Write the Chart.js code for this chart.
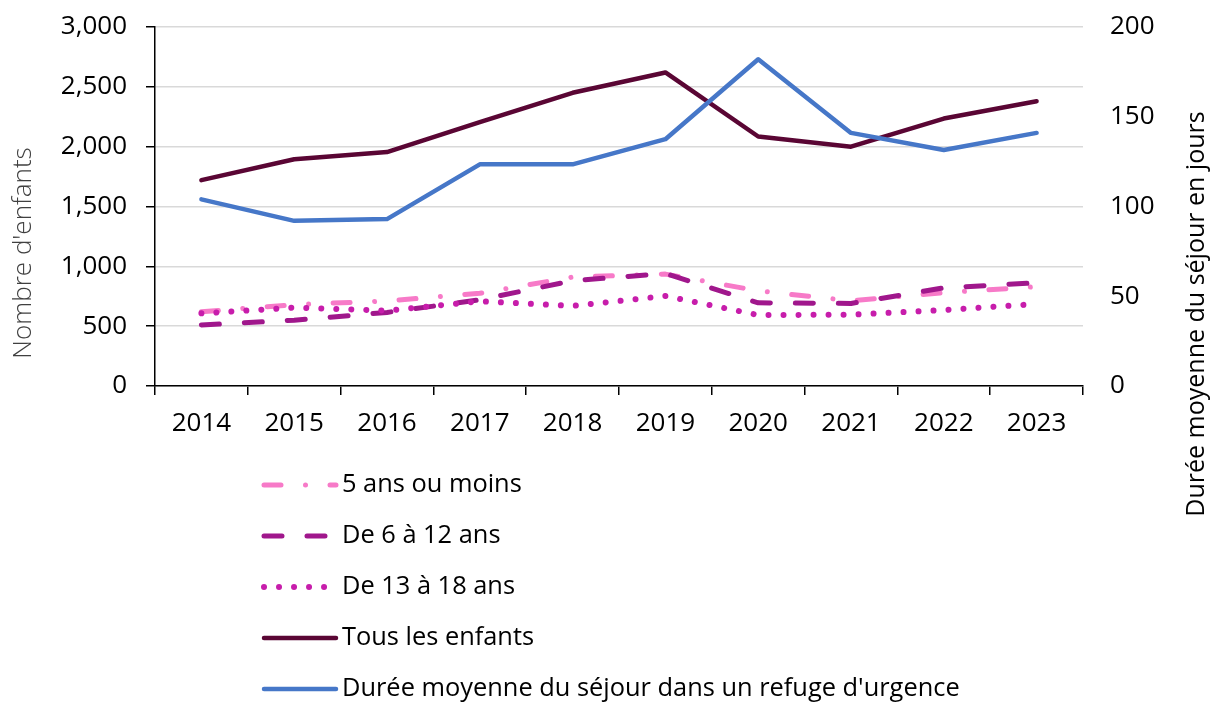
<!DOCTYPE html>
<html>
<head>
<meta charset="utf-8">
<script src="https://cdn.jsdelivr.net/npm/chart.js@4"></script>
<style>
html,body{margin:0;padding:0;background:#fff;}
#wrap{width:1211px;height:702px;position:relative;}
</style>
</head>
<body>
<div id="wrap"><canvas id="c" width="1211" height="702"></canvas></div>
<script>
const years = ['2014','2015','2016','2017','2018','2019','2020','2021','2022','2023'];
const moins5 = [620, 680, 710, 775, 910, 935, 795, 712, 780, 830];
const de6a12 = [510, 550, 615, 720, 880, 940, 695, 690, 820, 863];
const de13a18 = [607, 655, 630, 708, 669, 752, 593, 596, 635, 685];
const tous = [1720, 1895, 1955, 2205, 2450, 2620, 2085, 2000, 2235, 2380];
const duree = [104, 92, 93, 123.5, 123.5, 137.5, 182, 141, 131.5, 141];
const seriesNames = ['5 ans ou moins','De 6 à 12 ans','De 13 à 18 ans','Tous les enfants',"Durée moyenne du séjour dans un refuge d'urgence"];
const leftTicks = [0, 500, 1000, 1500, 2000, 2500, 3000];
const rightTicks = [0, 50, 100, 150, 200];
const leftTitle = "Nombre d'enfants";
const rightTitle = 'Durée moyenne du séjour en jours';

const FONT = '"Open Sans"';

const legendPlugin = {
  id: 'stackLegend',
  afterDraw(chart) {
    const ctx = chart.ctx;
    const x0 = 264, x1 = 336, tx = 342, y0 = 485, dy = 51;
    ctx.save();
    chart.data.datasets.forEach((ds, i) => {
      const y = y0 + i * dy;
      ctx.beginPath();
      ctx.strokeStyle = ds.borderColor;
      ctx.lineWidth = ds.borderWidth;
      ctx.lineCap = 'round';
      ctx.setLineDash(ds.borderDash || []);
      ctx.moveTo(x0, y);
      ctx.lineTo(x1, y);
      ctx.stroke();
      ctx.setLineDash([]);
      ctx.fillStyle = '#000';
      ctx.font = '25.4px ' + FONT;
      ctx.textBaseline = 'middle';
      ctx.textAlign = 'left';
      ctx.fillText(ds.label, tx, y);
    });
    // axis titles
    ctx.fillStyle = '#404040';
    ctx.font = '300 26px ' + FONT;
    ctx.textAlign = 'center';
    ctx.textBaseline = 'middle';
    ctx.translate(24, 253);
    ctx.rotate(-Math.PI / 2);
    ctx.fillText(leftTitle, 0, 0);
    ctx.restore();
    ctx.save();
    ctx.fillStyle = '#000';
    ctx.font = '25px ' + FONT;
    ctx.textAlign = 'center';
    ctx.textBaseline = 'middle';
    ctx.translate(1197, 314);
    ctx.rotate(-Math.PI / 2);
    ctx.fillText(rightTitle, 0, 0);
    ctx.restore();
  }
};

const mk = (label, data, color, width, dash, axis, order) => ({
  label, data, borderColor: color, backgroundColor: color, borderWidth: width,
  borderDash: dash, borderCapStyle: 'round', borderJoinStyle: 'round',
  pointRadius: 0, pointHoverRadius: 0, tension: 0, fill: false, yAxisID: axis, order
});

const noVPad = s => { s.paddingTop = 0; s.paddingBottom = 0; };

new Chart(document.getElementById('c'), {
  type: 'line',
  data: {
    labels: years,
    datasets: [
      mk(seriesNames[0], moins5, '#F77AC8', 5, [17, 24.5, 0.01, 24.5], 'y', 5),
      mk(seriesNames[1], de6a12, '#A0178C', 5, [18, 25], 'y', 4),
      mk(seriesNames[2], de13a18, '#C71DAB', 6, [0.01, 15], 'y', 3),
      mk(seriesNames[3], tous, '#5A0634', 4.5, [], 'y', 2),
      mk(seriesNames[4], duree, '#4677C8', 4.5, [], 'y1', 1)
    ]
  },
  options: {
    responsive: false,
    animation: false,
    devicePixelRatio: 1,
    layout: { padding: { top: 27, bottom: 256, left: 0, right: 0 } },
    plugins: { legend: { display: false }, tooltip: { enabled: false } },
    scales: {
      x: {
        type: 'category',
        offset: true,
        grid: { offset: true, drawOnChartArea: false, drawTicks: true, tickLength: 9, color: '#000', lineWidth: 1.5 },
        border: { display: true, color: '#000', width: 1.5 },
        ticks: { color: '#000', font: { family: FONT, size: 26 }, padding: 13, maxRotation: 0, autoSkip: false },
        afterFit(s) { s.height = 60; }
      },
      y: {
        position: 'left',
        min: 0, max: 3000,
        afterBuildTicks(s) { s.ticks = leftTicks.map(v => ({ value: v })); },
        grid: { color: '#d9d9d9', lineWidth: 1.5, drawTicks: true, tickLength: 9, tickColor: '#000' },
        border: { display: true, color: '#000', width: 1.5 },
        ticks: { color: '#000', font: { family: FONT, size: 26 }, padding: 19,
          callback: v => Number(v).toLocaleString('en-US') },
        afterFit(s) { s.width = 155; noVPad(s); }
      },
      y1: {
        position: 'right',
        min: 0, max: 200,
        afterBuildTicks(s) { s.ticks = rightTicks.map(v => ({ value: v })); },
        grid: { drawOnChartArea: false, drawTicks: false },
        border: { display: false },
        ticks: { color: '#000', font: { family: FONT, size: 26 }, padding: 27 },
        afterFit(s) { s.width = 128; noVPad(s); }
      }
    }
  },
  plugins: [legendPlugin]
});
</script>
</body>
</html>
